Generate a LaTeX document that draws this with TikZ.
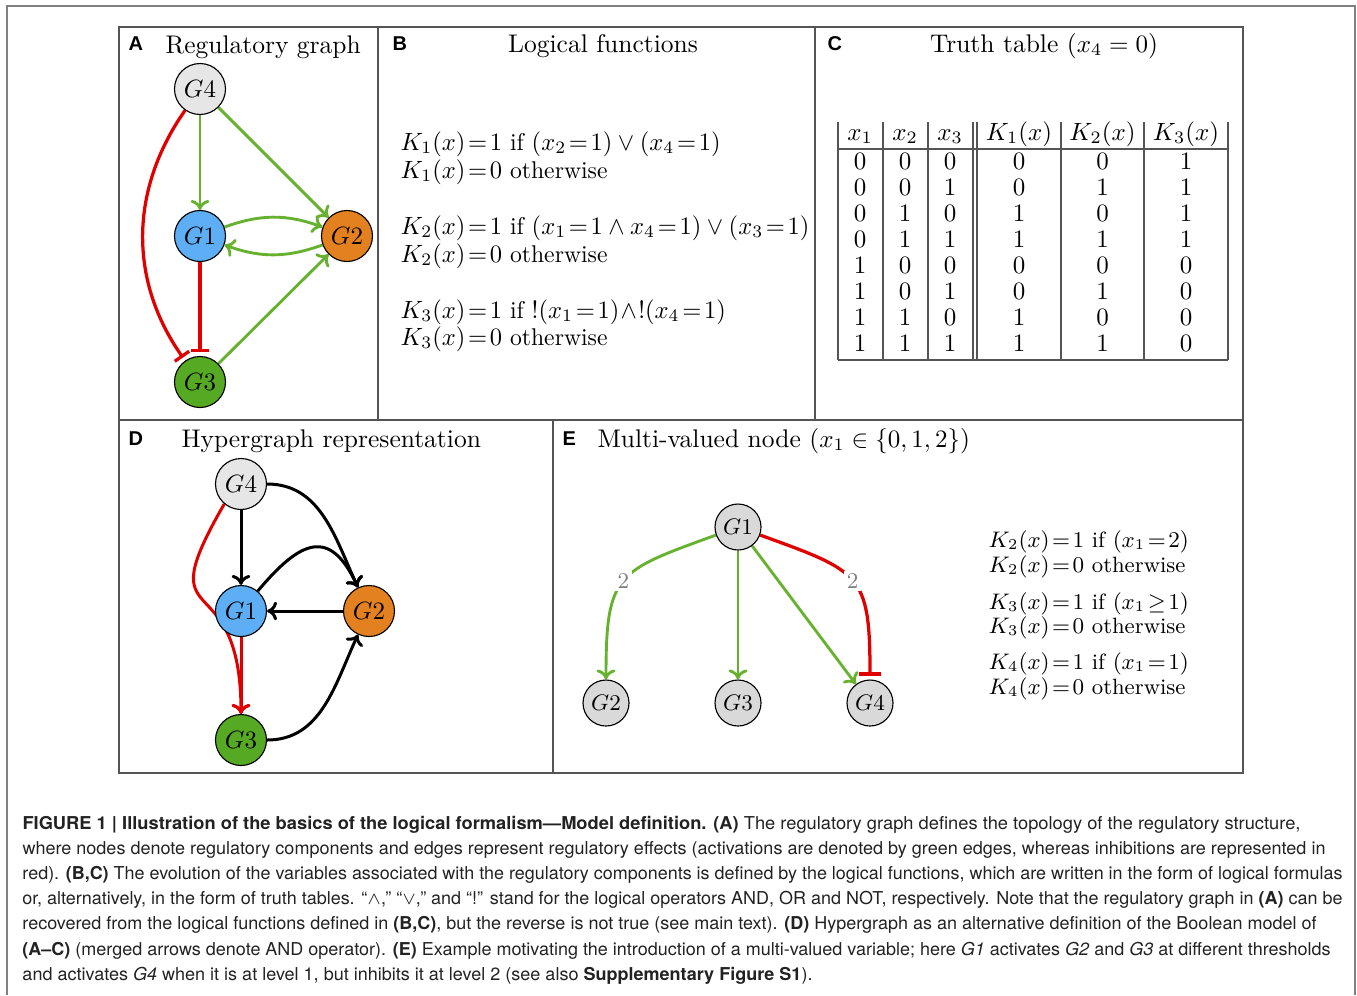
\documentclass[tikz,border=0pt]{standalone}
\usepackage{fontspec}
\newfontfamily\capfont{TeX Gyre Heros}
\newfontfamily\letterfont{Liberation Sans}
\usetikzlibrary{arrows.meta}
\pgfdeclarelayer{edges}
\pgfsetlayers{edges,main}

\definecolor{framegray}{HTML}{555555}
\definecolor{nodegray}{HTML}{E6E6E6}
\definecolor{egray}{HTML}{D9D9D9}
\definecolor{nodeblue}{HTML}{5DAEF5}
\definecolor{nodeorange}{HTML}{E3801F}
\definecolor{nodegreen}{HTML}{55A923}
\definecolor{actgreen}{HTML}{66B22E}
\definecolor{inhred}{HTML}{E00000}
\definecolor{capink}{HTML}{222222}

% caption line stretched horizontally to a given width (pt)
\newlength\caplen
\newcommand\capline[2]{%
  \settowidth\caplen{#2}%
  \pgfmathsetmacro\capsx{#1/\caplen}%
  \scalebox{\capsx}[1]{#2}}
% slightly condensed formula line
\newcommand\fline[1]{\scalebox{0.98}[1]{#1}}

\begin{document}
\begin{tikzpicture}[x=0.4pt,y=0.4pt,
  frame/.style={draw=framegray, line width=0.6pt},
  gnode/.style={circle, draw=black, line width=0.45pt, minimum size=20.4pt,
    inner sep=0pt, font=\fontsize{10}{12}\selectfont},
  enode/.style={gnode, minimum size=18.4pt, fill=egray, font=\fontsize{9}{11}\selectfont},
  tip/.style={-{Computer Modern Rightarrow[length=4pt,width=7.5pt]}},
  act/.style={draw=actgreen, line width=1.15pt, tip},
  inh/.style={draw=inhred, line width=1.3pt, -{Bar[width=7pt]}, shorten >=1.5pt},
  blk/.style={draw=black, line width=1.2pt, tip},
  redarr/.style={draw=inhred, line width=1.2pt, tip},
  lbl/.style={fill=white, text=gray, inner sep=1pt, font=\fontsize{9}{10}\selectfont},
  txt/.style={anchor=base west, inner sep=0pt, font=\fontsize{9.67}{12}\selectfont},
  etxt/.style={txt, font=\fontsize{8.85}{11}\selectfont},
  ttl/.style={inner sep=0pt, font=\fontsize{10.2}{12}\selectfont},
  plet/.style={anchor=base west, inner sep=0pt, font=\letterfont\bfseries\fontsize{8}{9}\selectfont},
  cell/.style={anchor=base, inner sep=0pt, font=\fontsize{10}{12}\selectfont},
  captxt/.style={anchor=base west, inner sep=0pt, text=capink, font=\capfont\fontsize{7.1}{8}\selectfont},
  tline/.style={draw=framegray, line width=0.55pt}
]
\useasboundingbox (0,0) rectangle (1357,-995);

% outer border, open at the bottom
\draw[draw=gray, line width=0.8pt] (7,-995) -- (7,-6) -- (1355,-6) -- (1355,-995);

% panel grid
\draw[frame] (119,-27) rectangle (1243,-773);
\draw[frame] (119,-420) -- (1243,-420);
\draw[frame] (378,-27) -- (378,-420);
\draw[frame] (815,-27) -- (815,-420);
\draw[frame] (553,-420) -- (553,-773);

% panel letters and titles
\node[plet] (lA) at (128,-50) {A};
\node[plet] (lB) at (392,-50) {B};
\node[plet] (lC) at (827,-50) {C};
\node[plet] (lD) at (128,-445) {D};
\node[plet] (lE) at (562,-445) {E};
\node[ttl, anchor=base west] (tA) at (165,-53) {Regulatory graph};
\node[ttl, anchor=base] (tB) at (603,-52) {Logical functions};
\node[ttl, anchor=base] (tC) at (1044,-52) {Truth table ($x_4 = 0$)};
\node[ttl, anchor=base west] (tD) at (181,-447) {Hypergraph representation};
\node[ttl, anchor=base west] (tE) at (597,-447) {Multi-valued node ($x_1 \in \{0,1,2\}$)};

% ---------- A: regulatory graph ----------
\node[gnode, fill=nodegray]   (G4a) at (200,-89)  {$G4$};
\node[gnode, fill=nodeblue]   (G1a) at (200,-236) {$G1$};
\node[gnode, fill=nodeorange] (G2a) at (347,-236) {$G2$};
\node[gnode, fill=nodegreen]  (G3a) at (200,-382) {$G3$};
\begin{pgfonlayer}{edges}
\draw[act] (G4a) -- (G1a);
\draw[act] (G4a) -- (G2a);
\draw[act] (G1a) to[bend left=20] (G2a);
\draw[act] (G2a) to[bend left=20] (G1a);
\draw[act] (G3a) -- (G2a);
\draw[inh] (G1a) -- (G3a);
\draw[inh] (G4a) to[bend right=35] (G3a);
\end{pgfonlayer}

% ---------- B: logical functions ----------
\node[txt] (b1) at (400,-150) {\fline{$K_1(x)\!=\!1$ if $(x_2\!=\!1) \vee (x_4\!=\!1)$}};
\node[txt] (b2) at (400,-178) {\fline{$K_1(x)\!=\!0$ otherwise}};
\node[txt] (b3) at (400,-234) {\fline{$K_2(x)\!=\!1$ if $(x_1\!=\!1 \wedge x_4\!=\!1) \vee (x_3\!=\!1)$}};
\node[txt] (b4) at (400,-262) {\fline{$K_2(x)\!=\!0$ otherwise}};
\node[txt] (b5) at (400,-318) {\fline{$K_3(x)\!=\!1$ if $\mathord{!}(x_1\!=\!1)\!\wedge\!\mathord{!}(x_4\!=\!1)$}};
\node[txt] (b6) at (400,-345) {\fline{$K_3(x)\!=\!0$ otherwise}};

% ---------- C: truth table ----------
\foreach \xx in {838,883,928,973,977,1061,1144,1228}
  \draw[tline] (\xx,-122) -- (\xx,-360);
\draw[tline] (838,-149) -- (1228,-149);
\draw[tline] (838,-360) -- (1228,-360);
\node[cell] (h1) at (860,-140) {$x_1$};
\node[cell] (h2) at (905,-140) {$x_2$};
\node[cell] (h3) at (950,-140) {$x_3$};
\node[cell] (h4) at (1019,-140) {$K_1(x)$};
\node[cell] (h5) at (1102.5,-140) {$K_2(x)$};
\node[cell] (h6) at (1186,-140) {$K_3(x)$};
\foreach \r/\a/\b/\c/\k/\l/\m in {1/0/0/0/0/0/1, 2/0/0/1/0/1/1, 3/0/1/0/1/0/1, 4/0/1/1/1/1/1,
                                  5/1/0/0/0/0/0, 6/1/0/1/0/1/0, 7/1/1/0/1/0/0, 8/1/1/1/1/1/0}{
  \pgfmathsetmacro\yy{-169-(\r-1)*26.14}
  \node[cell] (c\r-1) at (860,\yy)    {\a};
  \node[cell] (c\r-2) at (905,\yy)    {\b};
  \node[cell] (c\r-3) at (950,\yy)    {\c};
  \node[cell] (c\r-4) at (1019,\yy)   {\k};
  \node[cell] (c\r-5) at (1102.5,\yy) {\l};
  \node[cell] (c\r-6) at (1186,\yy)   {\m};
}

% ---------- D: hypergraph ----------
\node[gnode, fill=nodegray]   (G4d) at (241,-484) {$G4$};
\node[gnode, fill=nodeblue]   (G1d) at (241,-611) {$G1$};
\node[gnode, fill=nodeorange] (G2d) at (369,-611) {$G2$};
\node[gnode, fill=nodegreen]  (G3d) at (241,-740) {$G3$};
\begin{pgfonlayer}{edges}
\draw[blk] (G4d) -- (G1d);
\draw[blk] (G2d) -- (G1d);
\draw[blk] (G4d.east) to[out=0, in=115] (G2d.115);
\draw[blk] (G1d.50) to[out=50, in=115, looseness=1.7] (G2d.115);
\draw[blk] (G3d.east) to[out=0, in=-115] (G2d.-115);
\draw[redarr] (G1d) -- (G3d);
\draw[redarr] (G4d.230) to[out=240, in=90, looseness=1.9] (G3d.north);
\end{pgfonlayer}

% ---------- E: multi-valued node ----------
\node[enode] (G1e) at (738,-527) {$G1$};
\node[enode] (G2e) at (606,-703) {$G2$};
\node[enode] (G3e) at (738,-703) {$G3$};
\node[enode] (G4e) at (870,-703) {$G4$};
\begin{pgfonlayer}{edges}
\draw[act] (G1e.200) to[out=200, in=90, looseness=1.5] node[lbl] (l2a) {2} (G2e.north);
\draw[act] (G1e) -- (G3e);
\draw[act] (G1e) -- (G4e);
\draw[inh, -{Bar[width=9pt]}] (G1e.-20) to[out=-20, in=90, looseness=1.5] node[lbl] (l2b) {2} (G4e.north);
\end{pgfonlayer}

\node[etxt] (e1) at (988,-547) {$K_2(x)\!=\!1$ if $(x_1\!=\!2)$};
\node[etxt] (e2) at (988,-572) {$K_2(x)\!=\!0$ otherwise};
\node[etxt] (e3) at (988,-609) {$K_3(x)\!=\!1$ if $(x_1\!\geq\!1)$};
\node[etxt] (e4) at (988,-633) {$K_3(x)\!=\!0$ otherwise};
\node[etxt] (e5) at (988,-669) {$K_4(x)\!=\!1$ if $(x_1\!=\!1)$};
\node[etxt] (e6) at (988,-694) {$K_4(x)\!=\!0$ otherwise};

% ---------- caption ----------
\node[captxt] (cap1) at (22,-829) {\capline{511.2}{\textbf{FIGURE 1 | Illustration of the basics of the logical formalism—Model definition. (A)} The regulatory graph defines the topology of the regulatory structure,}};
\node[captxt] (cap2) at (22,-854.2) {\capline{521.2}{where nodes denote regulatory components and edges represent regulatory effects (activations are denoted by green edges, whereas inhibitions are represented in}};
\node[captxt] (cap3) at (22,-879.4) {\capline{528}{red). \textbf{(B,C)} The evolution of the variables associated with the regulatory components is defined by the logical functions, which are written in the form of logical formulas}};
\node[captxt] (cap4) at (22,-904.6) {\capline{528}{or, alternatively, in the form of truth tables. “$\wedge$,” “$\vee$,” and “!” stand for the logical operators AND, OR and NOT, respectively. Note that the regulatory graph in \textbf{(A)} can be}};
\node[captxt] (cap5) at (22,-929.8) {\capline{517.6}{recovered from the logical functions defined in \textbf{(B,C)}, but the reverse is not true (see main text). \textbf{(D)} Hypergraph as an alternative definition of the Boolean model of}};
\node[captxt] (cap6) at (22,-955) {\capline{523.2}{\textbf{(A–C)} (merged arrows denote AND operator). \textbf{(E)} Example motivating the introduction of a multi-valued variable; here \textit{G1} activates \textit{G2} and \textit{G3} at different thresholds}};
\node[captxt] (cap7) at (22,-980.2) {\capline{316}{and activates \textit{G4} when it is at level 1, but inhibits it at level 2 (see also \textbf{Supplementary Figure S1}).}};
\end{tikzpicture}
\end{document}
